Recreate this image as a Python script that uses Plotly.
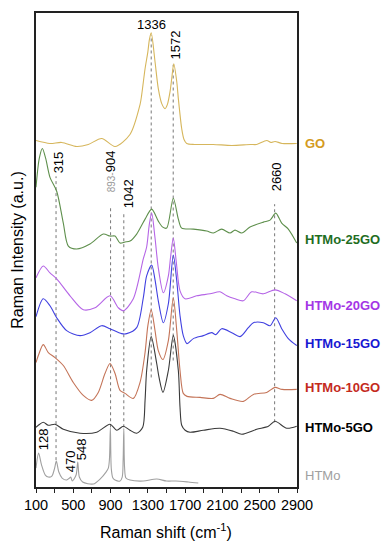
import plotly.graph_objects as go

# ---------------- data (intensities are offset, arbitrary units) ----------------
GO_wn  = [100, 250, 376, 537, 661, 805, 948, 1108, 1216, 1234, 1270, 1300, 1316, 1336, 1377, 1412, 1449, 1484, 1509, 1538, 1556, 1578, 1610, 1627, 1645, 1663, 1688, 1717, 1800, 2000, 2200, 2400, 2468, 2575, 2620, 2664, 2740, 2897]
GO_int = [348, 345, 346, 342, 344, 350, 342, 354, 384, 394, 420, 437, 449, 456, 427, 400, 385, 380, 384, 397, 410, 425, 407, 390, 374, 360, 349, 345, 344, 344, 343, 344, 344, 348, 346, 347, 345, 345]

G25_wn  = [100, 135, 168, 204, 250, 322, 393, 447, 537, 679, 822, 894, 948, 1001, 1055, 1109, 1180, 1270, 1341, 1412, 1460, 1502, 1573, 1627, 1663, 1788, 1932, 2002, 2092, 2182, 2235, 2307, 2396, 2539, 2611, 2672, 2736, 2807, 2897]
G25_int = [301, 330, 340, 330, 311, 297, 265, 242, 239, 244, 254, 252, 252, 245, 246, 247, 254, 269, 279, 267, 261, 260, 290, 269, 260, 259, 257, 255, 259, 255, 258, 255, 261, 266, 268, 275, 265, 259, 245]

G20_wn  = [100, 178, 250, 322, 465, 607, 733, 894, 983, 1037, 1144, 1251, 1287, 1316, 1341, 1377, 1412, 1466, 1520, 1545, 1573, 1605, 1645, 1699, 1824, 1967, 2074, 2146, 2235, 2324, 2414, 2539, 2664, 2772, 2897]
G20_int = [210, 222, 215, 209, 192, 178, 180, 192, 180, 177, 189, 229, 241, 264, 275, 250, 220, 195, 212, 232, 250, 226, 197, 189, 192, 194, 196, 192, 189, 187, 196, 194, 198, 194, 187]

G15_wn  = [100, 178, 250, 322, 429, 572, 679, 805, 894, 1019, 1073, 1180, 1251, 1287, 1341, 1377, 1412, 1466, 1520, 1573, 1610, 1645, 1680, 1720, 1788, 1895, 1985, 2030, 2092, 2200, 2289, 2378, 2432, 2539, 2611, 2672, 2736, 2807, 2897]
G15_int = [171, 189, 182, 170, 157, 152, 155, 162, 159, 154, 154, 160, 190, 212, 223, 208, 187, 165, 184, 233, 207, 172, 152, 144, 149, 152, 155, 153, 159, 155, 151, 160, 165, 165, 162, 170, 159, 149, 142]

G10_wn  = [100, 125, 178, 232, 304, 393, 500, 607, 697, 768, 840, 894, 948, 1001, 1055, 1144, 1216, 1270, 1300, 1336, 1377, 1412, 1462, 1520, 1573, 1610, 1645, 1680, 1720, 1860, 2002, 2074, 2182, 2324, 2432, 2575, 2664, 2740, 2897]
G10_int = [125, 132, 143, 135, 130, 122, 105, 92, 87, 95, 114, 124, 114, 97, 94, 89, 105, 135, 162, 178, 157, 137, 128, 147, 190, 157, 117, 94, 91, 90, 89, 93, 89, 86, 93, 95, 100, 98, 98]

G5_wn  = [100, 125, 178, 232, 304, 393, 572, 751, 894, 966, 1037, 1108, 1180, 1245, 1270, 1287, 1336, 1395, 1420, 1462, 1520, 1573, 1627, 1645, 1663, 1700, 1752, 1895, 2074, 2217, 2307, 2468, 2593, 2664, 2790, 2897]
G5_int = [60, 62, 65, 62, 63, 58, 54, 55, 63, 57, 61, 57, 54, 60, 87, 117, 151, 124, 110, 95, 117, 152, 117, 80, 62, 57, 55, 57, 59, 56, 53, 58, 61, 66, 59, 61]

HT_wn  = [100, 128, 160, 200, 232, 270, 300, 318, 345, 380, 429, 460, 472, 490, 530, 548, 565, 600, 715, 787, 851, 876, 888, 898, 908, 925, 948, 1001, 1025, 1035, 1042, 1050, 1065, 1108, 1251, 1395, 1500, 1600, 1734, 1841]
HT_int = [19, 34, 22, 12, 10, 11, 19, 26, 15, 9, 7, 9, 10, 6, 12, 25, 10, 5, 3, 8, 15, 19, 28, 60, 18, 9, 7, 6, 10, 28, 59, 20, 9, 7, 6, 8, 6, 6, 5, 4]

series_names  = ["GO", "HTMo-25GO", "HTMo-20GO", "HTMo-15GO", "HTMo-10GO", "HTMo-5GO", "HTMo"]
series_wn     = [GO_wn, G25_wn, G20_wn, G15_wn, G10_wn, G5_wn, HT_wn]
series_int    = [GO_int, G25_int, G20_int, G15_int, G10_int, G5_int, HT_int]
label_y       = [345, 249, 182, 144, 100, 60, 12]

# peak marker lines: position, lower and upper intensity
peak_pos  = [315, 900, 1042, 1336, 1572, 2660]
peak_low  = [27, 60, 60, 110, 127, 65]
peak_high = [312, 282, 276, 454, 424, 284]

x_ticks = [100, 500, 900, 1300, 1700, 2100, 2500, 2900]

# ---------------- styles ----------------
line_colors  = ["#d6b65c", "#5e8f4c", "#b565e6", "#4040e0", "#c47458", "#3a3a3a", "#a0a0a0"]
label_colors = ["#d49b1e", "#1f6e1f", "#a436e6", "#1818d2", "#c42a1c", "#000000", "#a0a0a0"]
FONT = "Arial, Liberation Sans, sans-serif"

fig = go.Figure()

for wn, inten, col, name in zip(series_wn, series_int, line_colors, series_names):
    fig.add_trace(go.Scatter(x=wn, y=inten, mode="lines", name=name,
                             line=dict(color=col, width=1.1, shape="spline", smoothing=0.8),
                             showlegend=False, hoverinfo="skip"))

for p, lo, hi in zip(peak_pos, peak_low, peak_high):
    fig.add_shape(type="line", x0=p, x1=p, y0=lo, y1=hi, xref="x", yref="y",
                  line=dict(color="#777777", width=1, dash="dot"), layer="below")

# series labels on the right
for name, yv, col in zip(series_names, label_y, label_colors):
    txt = name if name == "HTMo" else "<b>" + name + "</b>"
    fig.add_annotation(x=1.023, xref="paper", y=yv, yref="y", text=txt, showarrow=False,
                       xanchor="left", yanchor="middle",
                       font=dict(family=FONT, size=13, color=col))

# peak annotations
fig.add_annotation(x=1336, y=464, text="1336", showarrow=False, xanchor="center", yanchor="middle",
                   font=dict(family=FONT, size=13, color="#000"))
rot_labels = [("1572", 1597, 444), ("315", 336, 326), ("1042", 1087, 294), ("2660", 2675, 311),
              ("128", 175, 48), ("470", 465, 26), ("548", 583, 38)]
for t, xv, yv in rot_labels:
    fig.add_annotation(x=xv, y=yv, text=t, showarrow=False, textangle=-90,
                       xanchor="center", yanchor="middle",
                       font=dict(family=FONT, size=13, color="#000"))
fig.add_annotation(x=894, y=317, showarrow=False, textangle=-90, xanchor="center", yanchor="middle",
                   text="<span style='font-size:10px;color:#999999'>893-</span>904",
                   font=dict(family=FONT, size=13, color="#000"))

# axis titles
fig.add_annotation(x=-0.074, xref="paper", y=0.5, yref="paper", text="Raman Intensity (a.u.)",
                   textangle=-90, showarrow=False, xanchor="center", yanchor="middle",
                   font=dict(family=FONT, size=16, color="#000"))
fig.add_annotation(x=0.498, xref="paper", y=-0.092, yref="paper", text="Raman shift (cm<sup>-1</sup>)",
                   showarrow=False, xanchor="center", yanchor="middle",
                   font=dict(family=FONT, size=16, color="#000"))

fig.update_layout(
    width=390, height=550,
    margin=dict(l=36, r=93, t=11, b=63),
    paper_bgcolor="white", plot_bgcolor="white",
    font=dict(family=FONT, color="#000"),
    xaxis=dict(range=[100, 2900], tickvals=x_ticks, ticktext=[str(v) for v in x_ticks],
               ticks="outside", ticklen=4, tickwidth=1, tickcolor="#222",
               minor=dict(ticks="outside", tickvals=list(range(300, 2900, 400)), ticklen=4, tickcolor="#222"),
               showline=True, linecolor="#222", linewidth=1.5, mirror=True,
               showgrid=False, zeroline=False, tickfont=dict(size=14.5, family=FONT)),
    yaxis=dict(range=[0, 476], showticklabels=False, ticks="",
               showline=True, linecolor="#222", linewidth=1.5, mirror=True,
               showgrid=False, zeroline=False),
)

fig.write_html("out.html", config={"displayModeBar": False},
               post_script="document.body.style.margin='0';document.body.style.overflow='hidden';")
